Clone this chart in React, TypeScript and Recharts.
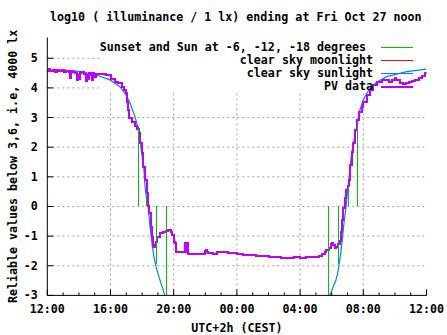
import { Label, Legend, Line, LineChart, ReferenceLine, XAxis, YAxis } from "recharts";

type Pt = [number, number];

// hours after 12:00 on the previous day
const hourMarks = [0, 1, 2, 3, 4, 5, 6, 7, 8, 9, 10, 11, 12, 13, 14, 15, 16, 17, 18, 19, 20, 21, 22, 23, 24];
const hourTicks = [0, 4, 8, 12, 16, 20, 24];
const hourLabels = ["12:00", "16:00", "20:00", "00:00", "04:00", "08:00", "12:00"];
const valueTicks = [-3, -2, -1, 0, 1, 2, 3, 4, 5];
const gridFull = [-2, -1, 0, 1, 2, 3];
const gridShort = [4, 5];
const gridHours = [4, 8, 12, 16, 20];

// sunset, -6, -12, -18 in the evening, then -18, -12, -6, sunrise
const twilightHours = [5.76, 6.29, 6.9, 7.53, 17.78, 18.42, 19.05, 19.62];
const twilightTops = [2.7, 0.4, -1.95, -3, -3, -1.95, 0.7, 2.7];

const sunEvening: Pt[] = [
  [0, 4.6], [1, 4.6], [2, 4.56], [3, 4.45], [3.97, 4.27], [4.6, 4.04], [5.0, 3.75],
  [5.23, 3.5], [5.55, 3.03], [5.74, 2.65], [5.9, 2.1], [6.0, 1.7], [6.08, 1.4],
  [6.12, 1.23], [6.18, 0.7], [6.29, 0.22], [6.37, 0.05], [6.5, -0.67], [6.65, -1.35],
  [6.77, -1.75], [6.88, -2.03], [7.03, -2.31], [7.18, -2.57], [7.34, -2.82], [7.43, -3],
];

const sunMorning: Pt[] = [
  [17.89, -3], [18.1, -2.7], [18.27, -2.48], [18.38, -2.25], [18.48, -1.92], [18.57, -1.58],
  [18.67, -1.13], [18.73, -0.79], [18.8, -0.46], [18.91, 0], [18.99, 0.45], [19.1, 0.9],
  [19.16, 1.34], [19.27, 1.8], [19.37, 2.13], [19.58, 2.69], [19.79, 3.26], [20.0, 3.6],
  [20.22, 3.82], [20.53, 4.04], [20.85, 4.19], [21.48, 4.38], [22.75, 4.55], [24, 4.63],
];

const moonlight: Pt[] = [];

const pvData: Pt[] = [
  [0, 4.58], [0.1, 4.63], [0.2, 4.56], [0.35, 4.6], [0.5, 4.55], [0.6, 4.62], [0.75, 4.57],
  [0.9, 4.6], [1.05, 4.55], [1.2, 4.58], [1.35, 4.52], [1.42, 4.33], [1.47, 4.56], [1.6, 4.55],
  [1.75, 4.5], [1.86, 4.27], [1.92, 4.45], [2.0, 4.3], [2.08, 4.5], [2.14, 4.52], [2.2, 4.55],
  [2.35, 4.48], [2.44, 4.22], [2.5, 4.45], [2.58, 4.3], [2.66, 4.5], [2.78, 4.45], [2.82, 4.27],
  [2.88, 4.5], [2.98, 4.46], [3.03, 4.38], [3.1, 4.48], [3.2, 4.46], [3.4, 4.47], [3.7, 4.42],
  [4.0, 4.3], [4.3, 4.21], [4.5, 4.16], [4.72, 4.04], [4.85, 3.93], [4.95, 3.82], [5.05, 3.54],
  [5.12, 3.26], [5.2, 3.0], [5.35, 2.85], [5.55, 2.7], [5.7, 2.62], [5.78, 2.47], [5.88, 2.13],
  [5.98, 1.8], [6.08, 1.34], [6.18, 0.9], [6.29, 0.45], [6.39, 0.0], [6.46, -0.23], [6.55, -0.68],
  [6.65, -1.02], [6.71, -1.3], [6.75, -1.36], [6.83, -1.3], [6.88, -1.19], [6.96, -1.02],
  [7.13, -0.88], [7.34, -0.85], [7.5, -0.82], [7.66, -0.79], [7.81, -0.85], [7.91, -0.96],
  [8.02, -1.19], [8.08, -1.22], [8.15, -1.52], [8.7, -1.55], [8.72, -1.22], [8.74, -1.55],
  [8.86, -1.22], [8.88, -1.6], [9.95, -1.61], [9.98, -1.5], [10.05, -1.47], [10.12, -1.52],
  [10.19, -1.58], [10.5, -1.6], [10.72, -1.55], [11.46, -1.56], [11.67, -1.58], [11.99, -1.61],
  [12.4, -1.63], [12.8, -1.65], [13.2, -1.66], [13.6, -1.67], [14.0, -1.7], [14.4, -1.72],
  [14.8, -1.75], [15.2, -1.74], [15.6, -1.72], [16.0, -1.73], [16.4, -1.7], [16.8, -1.69],
  [17.2, -1.67], [17.4, -1.6], [17.55, -1.55], [17.65, -1.47], [17.8, -1.41], [17.95, -1.28],
  [18.0, -1.22], [18.08, -1.3], [18.2, -1.41], [18.3, -1.38], [18.4, -1.27], [18.5, -1.15],
  [18.58, -0.85], [18.65, -0.45], [18.72, -0.05], [18.82, 0.3], [18.92, 0.55], [19.0, 0.7],
  [19.1, 0.9], [19.18, 1.4], [19.27, 1.85], [19.35, 2.13], [19.48, 2.58], [19.58, 2.92],
  [19.75, 3.2], [19.9, 3.37], [20.0, 3.54], [20.22, 3.76], [20.43, 3.93], [20.64, 4.1],
  [20.85, 4.21], [21.17, 4.27], [21.4, 4.25], [21.6, 4.2], [21.8, 4.25], [21.98, 4.33],
  [22.1, 4.28], [22.3, 4.18], [22.5, 4.13], [22.7, 4.15], [22.9, 4.2], [23.1, 4.23],
  [23.3, 4.28], [23.5, 4.33], [23.7, 4.4], [23.9, 4.49], [24, 4.5],
];

const legendLabels = [
  "Sunset and Sun at -6, -12, -18 degrees ",
  "clear sky moonlight",
  "clear sky sunlight",
  "PV data",
];

const COLORS = ["#00c000", "#ff0000", "#0080ff", "#c000ff"];
const GRID = "#a0a0a0";
const FONT = {
  fontFamily: "'DejaVu Sans Mono', monospace",
  fontWeight: "bold" as const,
  fontSize: 11.65,
};

const toRows = (pts: Pt[]) => pts.map(([h, v]) => ({ h, v: v as number | null }));
const sunRows = [...toRows(sunEvening), { h: 12, v: null }, ...toRows(sunMorning)];
const pvRows = toRows(pvData);
const moonRows = toRows(moonlight);
const twilightRows = twilightHours.flatMap((h, i) => [
  { h, v: 0 as number | null },
  { h, v: twilightTops[i] as number | null },
  { h, v: null },
]);

const BottomTick = (props: any) => {
  const { x, y, payload } = props;
  const i = hourTicks.indexOf(payload.value);
  return (
    <g>
      <line x1={x} x2={x} y1={y} y2={y - (i >= 0 ? 6 : 3)} stroke="#000" />
      {i >= 0 && (
        <text x={x} y={y + 18} textAnchor="middle" fill="#000" style={FONT}>
          {hourLabels[i]}
        </text>
      )}
    </g>
  );
};

const TopTick = (props: any) => {
  const { x, y, payload } = props;
  const major = hourTicks.includes(payload.value);
  return <line x1={x} x2={x} y1={y} y2={y + (major ? 6 : 3)} stroke="#000" />;
};

const LeftTick = (props: any) => {
  const { x, y, payload } = props;
  return (
    <g>
      <line x1={x} x2={x + 6} y1={y} y2={y} stroke="#000" />
      <text x={x - 9.5} y={y + 4} textAnchor="end" fill="#000" style={FONT}>
        {payload.value}
      </text>
    </g>
  );
};

const RightTick = (props: any) => {
  const { x, y } = props;
  return <line x1={x} x2={x - 6} y1={y} y2={y} stroke="#000" />;
};

const KeyBox = () => (
  <div style={{ ...FONT, color: "#000" }}>
    {legendLabels.map((label, i) => (
      <div
        key={label}
        style={{ display: "flex", justifyContent: "flex-end", alignItems: "center", height: 13, lineHeight: "13px" }}
      >
        <span style={{ whiteSpace: "pre" }}>{label}</span>
        <svg width={32} height={13} style={{ marginLeft: 8, display: "block" }}>
          <line
            x1={0}
            x2={32}
            y1={6.5}
            y2={6.5}
            stroke={COLORS[i]}
            strokeWidth={i === 3 ? 2 : 1}
            shapeRendering="crispEdges"
          />
        </svg>
      </div>
    ))}
  </div>
);

export default function App() {
  return (
    <div style={{ position: "absolute", left: 0, top: 0, width: 447, height: 335, background: "#fff" }}>
      <div
        style={{
          ...FONT,
          position: "absolute",
          left: 0,
          top: 10.5,
          width: 471.6,
          textAlign: "center",
          lineHeight: "12px",
          whiteSpace: "pre",
          color: "#000",
        }}
      >
        log10 ( illuminance / 1 lx) ending at Fri Oct 27 noon
      </div>
      <LineChart width={447} height={335} margin={{ top: 37.5, right: 20.5, bottom: 19.6, left: 7.3 }}>
        <XAxis
          xAxisId="b"
          dataKey="h"
          type="number"
          domain={[0, 24]}
          allowDataOverflow
          ticks={hourMarks}
          interval={0}
          height={20}
          tickSize={0}
          tickMargin={0}
          tickLine={false}
          tick={BottomTick}
          axisLine={{ stroke: "#000" }}
        >
          <Label value="UTC+2h (CEST)" position="insideBottom" offset={-16.6} fill="#000" style={FONT} />
        </XAxis>
        <XAxis
          xAxisId="t"
          orientation="top"
          dataKey="h"
          type="number"
          domain={[0, 24]}
          allowDataOverflow
          ticks={hourMarks}
          interval={0}
          height={0}
          tickSize={0}
          tickMargin={0}
          tickLine={false}
          tick={TopTick}
          axisLine={{ stroke: "#000" }}
        />
        <YAxis
          yAxisId="l"
          type="number"
          domain={[-3, 5.7]}
          allowDataOverflow
          ticks={valueTicks}
          interval={0}
          width={40}
          tickSize={0}
          tickMargin={0}
          tickLine={false}
          tick={LeftTick}
          axisLine={{ stroke: "#000" }}
        >
          <Label
            value="Reliable values below 3,6, i.e, 4000 lx"
            angle={-90}
            position="insideLeft"
            offset={5.5}
            fill="#000"
            style={{ ...FONT, textAnchor: "middle" }}
          />
        </YAxis>
        <YAxis
          yAxisId="r"
          orientation="right"
          type="number"
          domain={[-3, 5.7]}
          allowDataOverflow
          ticks={valueTicks}
          interval={0}
          width={0}
          tickSize={0}
          tickMargin={0}
          tickLine={false}
          tick={RightTick}
          axisLine={{ stroke: "#000" }}
        />

        {gridFull.map((v) => (
          <ReferenceLine
            key={`gy${v}`}
            xAxisId="b"
            yAxisId="l"
            segment={[{ x: 0, y: v }, { x: 24, y: v }]}
            stroke={GRID}
            strokeDasharray="2 3"
            zIndex={-50}
          />
        ))}
        {gridShort.map((v) => (
          <ReferenceLine
            key={`gs${v}`}
            xAxisId="b"
            yAxisId="l"
            segment={[{ x: 0, y: v }, { x: 3.3, y: v }]}
            stroke={GRID}
            strokeDasharray="2 3"
            zIndex={-50}
          />
        ))}
        {gridHours.map((h) => (
          <ReferenceLine
            key={`gx${h}`}
            xAxisId="b"
            yAxisId="l"
            segment={[{ x: h, y: -3 }, { x: h, y: 3.86 }]}
            stroke={GRID}
            strokeDasharray="2 3"
            zIndex={-50}
          />
        ))}

        <Legend
          layout="horizontal"
          verticalAlign="middle"
          align="center"
          content={KeyBox}
          wrapperStyle={{ position: "absolute", left: 90, top: 40.5, width: 323, height: 52 }}
        />

        <Line
          xAxisId="b"
          yAxisId="l"
          data={moonRows}
          dataKey="v"
          name="clear sky moonlight"
          stroke={COLORS[1]}
          dot={false}
          isAnimationActive={false}
        />
        <Line
          xAxisId="b"
          yAxisId="l"
          data={sunRows}
          dataKey="v"
          name="clear sky sunlight"
          type="linear"
          stroke={COLORS[2]}
          strokeWidth={1.2}
          dot={false}
          activeDot={false}
          isAnimationActive={false}
        />
        <Line
          xAxisId="b"
          yAxisId="l"
          data={pvRows}
          dataKey="v"
          name="PV data"
          type="stepAfter"
          stroke={COLORS[3]}
          strokeWidth={2}
          shapeRendering="crispEdges"
          dot={false}
          activeDot={false}
          isAnimationActive={false}
        />
        <Line
          xAxisId="b"
          yAxisId="l"
          data={twilightRows}
          dataKey="v"
          name="Sunset and Sun at -6, -12, -18 degrees"
          type="linear"
          stroke={COLORS[0]}
          strokeWidth={1.2}
          shapeRendering="crispEdges"
          dot={false}
          activeDot={false}
          isAnimationActive={false}
        />
      </LineChart>
    </div>
  );
}
